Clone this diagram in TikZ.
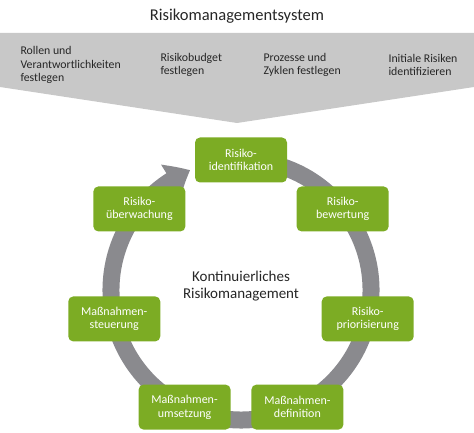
\documentclass[tikz,border=0pt]{standalone}
\usepackage{fontspec}
\setmainfont{Carlito}
\usetikzlibrary{arrows.meta,bending,positioning,calc}
\definecolor{risikogruen}{RGB}{124,172,36}
\definecolor{ringgrau}{RGB}{138,138,142}
\definecolor{bandgrau}{RGB}{200,200,200}
\definecolor{textgrau}{RGB}{38,38,38}

\begin{document}
\begin{tikzpicture}[x=1pt, y=1pt,
  schritt/.style={fill=risikogruen, rounded corners=5pt, minimum width=92pt,
    minimum height=45pt, inner sep=0pt, align=center, text=white,
    font=\fontsize{12}{13.5}\selectfont},
  punkt/.style={anchor=west, align=left, text=textgrau,
    font=\fontsize{11.8}{13.5}\selectfont}]
  \useasboundingbox (0,0) rectangle (474,433);
  % Titel
  \node[text=textgrau, font=\fontsize{16.5}{20}\selectfont] (titel) at (237,417)
    {Risikomanagementsystem};
  % Band mit Spitze
  \fill[bandgrau] (0,400) -- (474,400) -- (474,346) -- (237,310) -- (0,346) -- cycle;
  \node[punkt] (rollen) at (17,368) {Rollen und\\Verantwortlichkeiten\\festlegen};
  \node[punkt] (budget) at (157,368) {Risikobudget\\festlegen};
  \node[punkt] (prozesse) at (260,368) {Prozesse und\\Zyklen festlegen};
  \node[punkt] (initial) at (385,368) {Initiale Risiken\\identifizieren};
  % Kreislauf
  \coordinate (c) at (241,143);
  \draw[ringgrau, line width=17pt, -{Triangle[width=36pt, length=22pt, bend]}]
    ($(c)+(80:130)$) arc[start angle=80, end angle=-247, radius=130];
  % Schritte
  \foreach \name/\txt [count=\i from 0] in {
      ident/{Risiko-\\identifikation}, bewert/{Risiko-\\bewertung},
      prio/{Risiko-\\priorisierung}, mdef/{Maßnahmen-\\definition},
      mums/{Maßnahmen-\\umsetzung}, mst/{Maßnahmen-\\steuerung},
      ueber/{Risiko-\\überwachung}}
    \node[schritt] (\name) at ($(c)+(90-\i*360/7:130)$) {\txt};
  \node[text=textgrau, align=center, font=\fontsize{15}{17.5}\selectfont] (mitte)
    at ($(c)+(0,4)$) {Kontinuierliches\\Risikomanagement};
\end{tikzpicture}
\end{document}
